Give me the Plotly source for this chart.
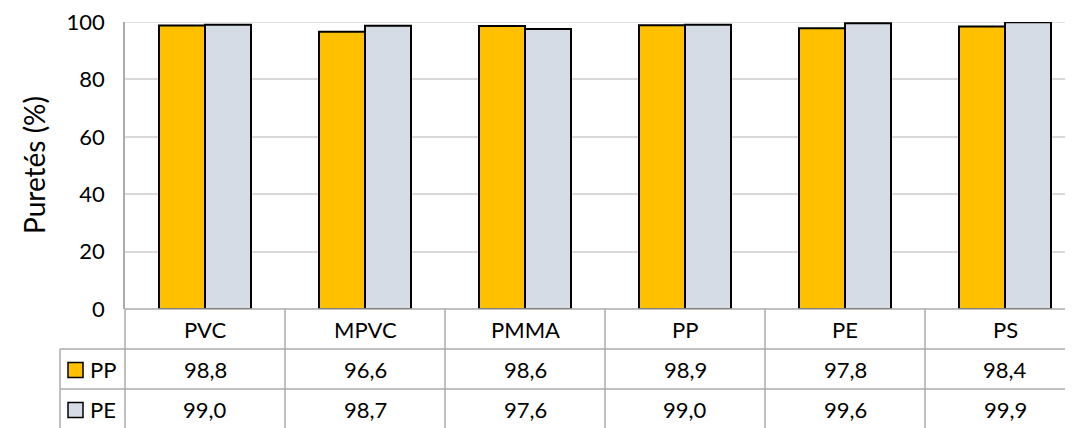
import plotly.graph_objects as go

categories = ["PVC", "MPVC", "PMMA", "PP", "PE", "PS"]
series_names = ["PP", "PE"]
pp_values = [98.8, 96.6, 98.6, 98.9, 97.8, 98.4]
pe_values = [99.0, 98.7, 97.6, 99.0, 99.6, 99.9]
y_ticks = [0, 20, 40, 60, 80, 100]
y_title = "Puretés (%)"

colors = ["#FFC000", "#D6DCE5"]
OFF = 8  # page body margin
W, H = 1073 - OFF, 428 - OFF
L, R, T = 125 - OFF, 0, 22 - OFF
PH = 287
B = H - T - PH
PW = W - L - R
FONT = "Lato, Calibri, Carlito, sans-serif"
GRID = "#D9D9D9"
TAB = "#ABABAB"

def px(x):
    return (x - 125) / PW

def py(y):
    return (309 - y) / PH

fig = go.Figure()
for name, vals, col in zip(series_names, [pp_values, pe_values], colors):
    fig.add_trace(go.Bar(x=categories, y=vals, name=name, cliponaxis=False,
                         marker=dict(color=col, line=dict(color="#000000", width=2)),
                         showlegend=False))

fig.update_layout(
    width=W, height=H, margin=dict(l=L, r=R, t=T, b=B, pad=0),
    paper_bgcolor="white", plot_bgcolor="white",
    barmode="group", bargap=0.425, bargroupgap=0,
    font=dict(family=FONT, color="#000000", size=22),
)
fig.update_xaxes(type="category", range=[-0.5, 5.425], showticklabels=False, showgrid=False,
                 zeroline=False, showline=False, ticks="")
fig.update_yaxes(range=[0, 100], tickvals=y_ticks, showgrid=True, gridcolor=GRID, gridwidth=1.5,
                 zeroline=False, showline=True, linecolor=TAB, linewidth=1.5, ticks="",
                 tickfont=dict(size=22, family=FONT, color="#000000"), ticklabelstandoff=14,
                 ticklabeloverflow="allow")

shapes = []
ybot = py(432)
line = dict(color=TAB, width=1.5)
shapes.append(dict(type="line", xref="paper", yref="y", x0=0, x1=1, y0=y_ticks[-1], y1=y_ticks[-1],
                   line=dict(color=GRID, width=1.5), layer="below"))
shapes.append(dict(type="line", xref="paper", yref="paper", x0=0, x1=1, y0=0, y1=0, line=line))
for yy in [349, 389]:
    shapes.append(dict(type="line", xref="paper", yref="paper", x0=px(60), x1=1, y0=py(yy), y1=py(yy), line=line))
shapes.append(dict(type="line", xref="paper", yref="paper", x0=0, x1=0, y0=ybot, y1=0, line=line))
shapes.append(dict(type="line", xref="paper", yref="paper", x0=px(60), x1=px(60), y0=ybot, y1=py(349), line=line))
for i in range(len(categories) - 1):
    shapes.append(dict(type="line", xref="x", yref="paper", x0=i + 0.5, x1=i + 0.5, y0=ybot, y1=0, line=line))
for col, yc in zip(colors, [370, 410]):
    shapes.append(dict(type="rect", xref="paper", yref="paper", x0=px(68), x1=px(83), y0=py(yc - 7.5), y1=py(yc + 7.5),
                       fillcolor=col, line=dict(color="#000000", width=1.5)))

ann = []
for c in categories:
    ann.append(dict(x=c, xref="x", y=py(329), yref="paper", text=c, showarrow=False,
                    xanchor="center", yanchor="middle", font=dict(size=22)))
for vals, yc, name in zip([pp_values, pe_values], [369, 409], series_names):
    ann.append(dict(x=px(88), xref="paper", y=py(yc), yref="paper", text=name, showarrow=False,
                    xanchor="left", yanchor="middle", font=dict(size=22)))
    for c, v in zip(categories, vals):
        ann.append(dict(x=c, xref="x", y=py(yc), yref="paper", text=f"{v:.1f}".replace(".", ","),
                        showarrow=False, xanchor="center", yanchor="middle", font=dict(size=22)))
ann.append(dict(x=px(34), xref="paper", y=py(165), yref="paper", text=y_title, textangle=-90, showarrow=False,
                xanchor="center", yanchor="middle", font=dict(size=28)))

fig.update_layout(shapes=shapes, annotations=ann)
fig.write_html("out.html")
